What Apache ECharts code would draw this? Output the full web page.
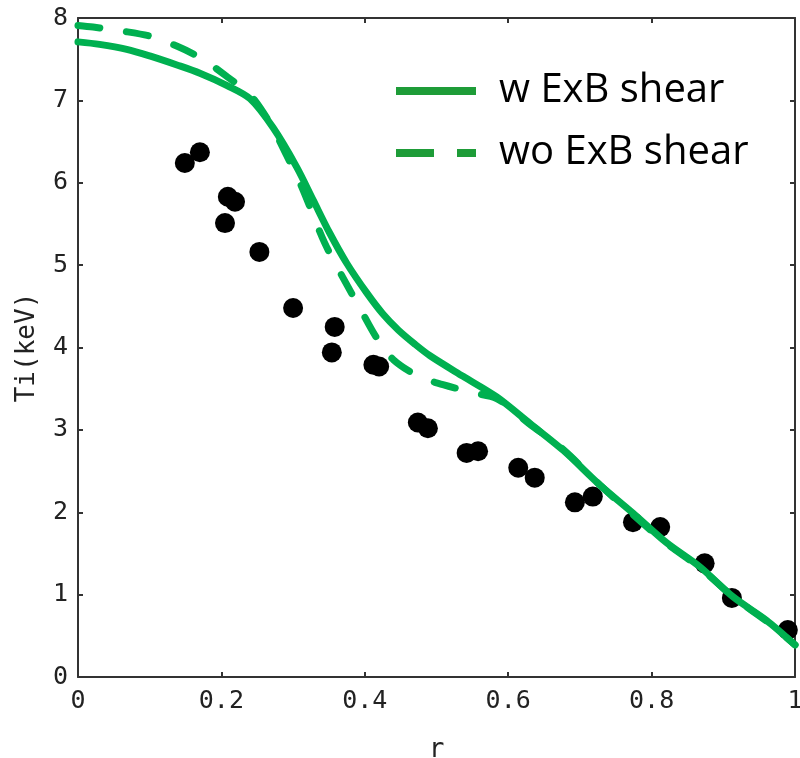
<!DOCTYPE html>
<html>
<head>
<meta charset="utf-8">
<script src="https://cdn.jsdelivr.net/npm/echarts@6/dist/echarts.min.js"></script>
<style>html,body{margin:0;padding:0;background:#fff}#c{width:800px;height:758px}</style>
</head>
<body>
<div id="c"></div>
<script>
const xTickLabels = ['0', '0.2', '0.4', '0.6', '0.8', '1'];
const yTickLabels = ['0', '1', '2', '3', '4', '5', '6', '7', '8'];
const seriesNames = ['w ExB shear', 'wo ExB shear'];

// measured Ti (black dots): [r, Ti]
const measured = [
  [0.149, 6.24], [0.170, 6.37], [0.205, 5.51], [0.209, 5.83], [0.219, 5.77],
  [0.253, 5.16], [0.300, 4.48], [0.354, 3.94], [0.358, 4.25], [0.412, 3.79],
  [0.420, 3.77], [0.474, 3.09], [0.488, 3.02], [0.542, 2.72], [0.558, 2.74],
  [0.614, 2.54], [0.637, 2.42], [0.693, 2.12], [0.718, 2.19], [0.774, 1.88],
  [0.812, 1.82], [0.874, 1.38], [0.912, 0.96], [0.990, 0.57]
];

// with ExB shear (solid)
const withShear = [
  [0, 7.71], [0.03, 7.68], [0.068, 7.62], [0.10, 7.54], [0.138, 7.43],
  [0.17, 7.33], [0.208, 7.18], [0.24, 7.02], [0.272, 6.67], [0.305, 6.19],
  [0.328, 5.79], [0.351, 5.39], [0.375, 5.02], [0.403, 4.66], [0.425, 4.41],
  [0.447, 4.21], [0.47, 4.04], [0.491, 3.90], [0.537, 3.65], [0.584, 3.40],
  [0.63, 3.08], [0.677, 2.75], [0.728, 2.33], [0.774, 1.99], [0.821, 1.63],
  [0.867, 1.34], [0.914, 0.97], [0.96, 0.69], [1.0, 0.39]
];

// without ExB shear (dashed)
const withoutShear = [
  [0, 7.91], [0.021, 7.89], [0.063, 7.84], [0.10, 7.78], [0.14, 7.65],
  [0.174, 7.50], [0.209, 7.28], [0.24, 7.07], [0.268, 6.72], [0.29, 6.35],
  [0.312, 5.95], [0.344, 5.27], [0.377, 4.73], [0.393, 4.48], [0.417, 4.11],
  [0.44, 3.85], [0.477, 3.64], [0.509, 3.55], [0.551, 3.45], [0.584, 3.38],
  [0.63, 3.07], [0.677, 2.76], [0.728, 2.33], [0.774, 1.97], [0.821, 1.62],
  [0.867, 1.33], [0.914, 0.97], [0.96, 0.68], [1.0, 0.39]
];

const axisColor = '#333';
const lineGreen = '#00b050';
const legendGreen = '#1e9c38';
const monoFont = 'DejaVu Sans Mono';

const chart = echarts.init(document.getElementById('c'), null, {renderer: 'canvas'});

function xAxisCfg(pos, showLabel) {
  return {
    type: 'value', position: pos, min: 0, max: 1, interval: 0.2,
    axisLine: {show: true, onZero: false, lineStyle: {color: axisColor, width: 2}},
    axisTick: {show: true, inside: true, length: 5, lineStyle: {color: axisColor, width: 2}},
    splitLine: {show: false},
    axisLabel: {
      show: showLabel, margin: 12, color: '#222', fontFamily: monoFont, fontSize: 25,
      formatter: v => xTickLabels[Math.round(v / 0.2)]
    },
    name: showLabel ? 'r' : '', nameLocation: 'middle', nameGap: 60,
    nameTextStyle: {color: '#222', fontFamily: monoFont, fontSize: 26}
  };
}
function yAxisCfg(pos, showLabel) {
  return {
    type: 'value', position: pos, min: 0, max: 8, interval: 1,
    axisLine: {show: true, onZero: false, lineStyle: {color: axisColor, width: 2}},
    axisTick: {show: true, inside: true, length: 5, lineStyle: {color: axisColor, width: 2}},
    splitLine: {show: false},
    axisLabel: {
      show: showLabel, margin: 10, color: '#222', fontFamily: monoFont, fontSize: 25,
      formatter: v => yTickLabels[Math.round(v)]
    },
    name: showLabel ? 'Ti(keV)' : '', nameLocation: 'middle', nameGap: 38, nameRotate: 90,
    nameTextStyle: {color: '#222', fontFamily: monoFont, fontSize: 26}
  };
}

chart.setOption({
  animation: false,
  backgroundColor: '#fff',
  grid: {left: 78, right: 5, top: 18, bottom: 81, containLabel: false, outerBoundsMode: 'none'},
  xAxis: [xAxisCfg('bottom', true), xAxisCfg('top', false)],
  yAxis: [yAxisCfg('left', true), yAxisCfg('right', false)],
  legend: {
    left: 392, top: 69, orient: 'vertical', itemGap: 18, padding: 0,
    itemWidth: 80, itemHeight: 8, selectedMode: false,
    textStyle: {fontFamily: 'Open Sans', fontSize: 40, color: '#000', lineHeight: 44, padding: [0, 0, 0, 18]},
    data: [
      {name: seriesNames[0], itemStyle: {opacity: 0}, lineStyle: {color: legendGreen, width: 8, type: 'solid', cap: 'butt'}},
      {name: seriesNames[1], itemStyle: {opacity: 0}, lineStyle: {color: legendGreen, width: 8, type: [38, 23], cap: 'butt'}}
    ]
  },
  series: [
    {
      type: 'scatter', name: 'data', data: measured, symbol: 'circle', symbolSize: 20,
      itemStyle: {color: '#000', opacity: 1}, z: 2, silent: true
    },
    {
      type: 'line', name: seriesNames[1], data: withoutShear, smooth: 0.3, showSymbol: false, symbol: 'none',
      lineStyle: {color: lineGreen, width: 7, type: [22, 27], cap: 'round'}, z: 3
    },
    {
      type: 'line', name: seriesNames[0], data: withShear, smooth: 0.3, showSymbol: false, symbol: 'none',
      lineStyle: {color: lineGreen, width: 7, type: 'solid', cap: 'round'}, z: 4
    }
  ]
});
</script>
</body>
</html>
